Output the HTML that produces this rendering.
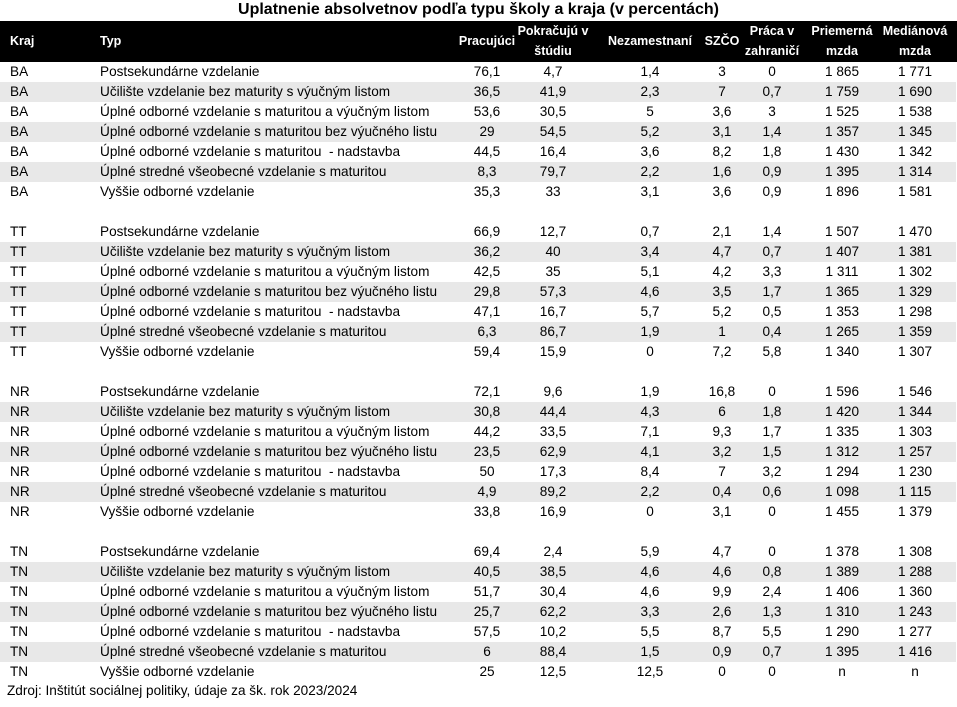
<!DOCTYPE html>
<html><head><meta charset="utf-8"><style>
body{margin:0;width:957px;height:707px;background:#fff;position:relative;overflow:hidden;font-family:"Liberation Sans",sans-serif;color:#000}
.title{position:absolute;top:0;left:0;width:957px;text-align:center;font-weight:bold;font-size:16px;line-height:19px}
.hd{position:absolute;top:21px;left:0;width:957px;height:41px;background:#000;color:#fff;font-weight:bold;font-size:12.5px}
.hd span{position:absolute;line-height:20px;white-space:nowrap}
.r{position:absolute;left:0;width:956px;height:20px;font-size:13.6px;line-height:20px}
.g{background:#e8e8e8}
.r span{position:absolute;top:0;white-space:nowrap}
.k{left:10px}.t{left:100px}
.c{width:100px;text-align:center}
.c1{left:437px}.c2{left:503px}.c3{left:600px}.c4{left:672px}.c5{left:722px}.c6{left:792px}.c7{left:865px}
.hd .c{width:100px;text-align:center}
.src{position:absolute;left:7px;top:681px;font-size:13.6px;line-height:20px}
</style></head><body>
<div class="title">Uplatnenie absolvetnov podľa typu školy a kraja (v percentách)</div>
<div class="hd">
<span style="left:10px;top:10px">Kraj</span>
<span style="left:100px;top:10px">Typ</span>
<span class="c c1" style="top:10px">Pracujúci</span>
<span class="c c2" style="top:0">Pokračujú v</span><span class="c c2" style="top:20px">štúdiu</span>
<span class="c c3" style="top:10px">Nezamestnaní</span>
<span class="c c4" style="top:10px">SZČO</span>
<span class="c c5" style="top:0">Práca v</span><span class="c c5" style="top:20px">zahraničí</span>
<span class="c c6" style="top:0">Priemerná</span><span class="c c6" style="top:20px">mzda</span>
<span class="c c7" style="top:0">Mediánová</span><span class="c c7" style="top:20px">mzda</span>
</div>

<div class="r" style="top:62px"><span class="k">BA</span><span class="t">Postsekundárne vzdelanie</span><span class="c c1">76,1</span><span class="c c2">4,7</span><span class="c c3">1,4</span><span class="c c4">3</span><span class="c c5">0</span><span class="c c6">1 865</span><span class="c c7">1 771</span></div>
<div class="r g" style="top:82px"><span class="k">BA</span><span class="t">Učilište vzdelanie bez maturity s výučným listom</span><span class="c c1">36,5</span><span class="c c2">41,9</span><span class="c c3">2,3</span><span class="c c4">7</span><span class="c c5">0,7</span><span class="c c6">1 759</span><span class="c c7">1 690</span></div>
<div class="r" style="top:102px"><span class="k">BA</span><span class="t">Úplné odborné vzdelanie s maturitou a výučným listom</span><span class="c c1">53,6</span><span class="c c2">30,5</span><span class="c c3">5</span><span class="c c4">3,6</span><span class="c c5">3</span><span class="c c6">1 525</span><span class="c c7">1 538</span></div>
<div class="r g" style="top:122px"><span class="k">BA</span><span class="t">Úplné odborné vzdelanie s maturitou bez výučného listu</span><span class="c c1">29</span><span class="c c2">54,5</span><span class="c c3">5,2</span><span class="c c4">3,1</span><span class="c c5">1,4</span><span class="c c6">1 357</span><span class="c c7">1 345</span></div>
<div class="r" style="top:142px"><span class="k">BA</span><span class="t">Úplné odborné vzdelanie s maturitou&nbsp; - nadstavba</span><span class="c c1">44,5</span><span class="c c2">16,4</span><span class="c c3">3,6</span><span class="c c4">8,2</span><span class="c c5">1,8</span><span class="c c6">1 430</span><span class="c c7">1 342</span></div>
<div class="r g" style="top:162px"><span class="k">BA</span><span class="t">Úplné stredné všeobecné vzdelanie s maturitou</span><span class="c c1">8,3</span><span class="c c2">79,7</span><span class="c c3">2,2</span><span class="c c4">1,6</span><span class="c c5">0,9</span><span class="c c6">1 395</span><span class="c c7">1 314</span></div>
<div class="r" style="top:182px"><span class="k">BA</span><span class="t">Vyššie odborné vzdelanie</span><span class="c c1">35,3</span><span class="c c2">33</span><span class="c c3">3,1</span><span class="c c4">3,6</span><span class="c c5">0,9</span><span class="c c6">1 896</span><span class="c c7">1 581</span></div>

<div class="r" style="top:222px"><span class="k">TT</span><span class="t">Postsekundárne vzdelanie</span><span class="c c1">66,9</span><span class="c c2">12,7</span><span class="c c3">0,7</span><span class="c c4">2,1</span><span class="c c5">1,4</span><span class="c c6">1 507</span><span class="c c7">1 470</span></div>
<div class="r g" style="top:242px"><span class="k">TT</span><span class="t">Učilište vzdelanie bez maturity s výučným listom</span><span class="c c1">36,2</span><span class="c c2">40</span><span class="c c3">3,4</span><span class="c c4">4,7</span><span class="c c5">0,7</span><span class="c c6">1 407</span><span class="c c7">1 381</span></div>
<div class="r" style="top:262px"><span class="k">TT</span><span class="t">Úplné odborné vzdelanie s maturitou a výučným listom</span><span class="c c1">42,5</span><span class="c c2">35</span><span class="c c3">5,1</span><span class="c c4">4,2</span><span class="c c5">3,3</span><span class="c c6">1 311</span><span class="c c7">1 302</span></div>
<div class="r g" style="top:282px"><span class="k">TT</span><span class="t">Úplné odborné vzdelanie s maturitou bez výučného listu</span><span class="c c1">29,8</span><span class="c c2">57,3</span><span class="c c3">4,6</span><span class="c c4">3,5</span><span class="c c5">1,7</span><span class="c c6">1 365</span><span class="c c7">1 329</span></div>
<div class="r" style="top:302px"><span class="k">TT</span><span class="t">Úplné odborné vzdelanie s maturitou&nbsp; - nadstavba</span><span class="c c1">47,1</span><span class="c c2">16,7</span><span class="c c3">5,7</span><span class="c c4">5,2</span><span class="c c5">0,5</span><span class="c c6">1 353</span><span class="c c7">1 298</span></div>
<div class="r g" style="top:322px"><span class="k">TT</span><span class="t">Úplné stredné všeobecné vzdelanie s maturitou</span><span class="c c1">6,3</span><span class="c c2">86,7</span><span class="c c3">1,9</span><span class="c c4">1</span><span class="c c5">0,4</span><span class="c c6">1 265</span><span class="c c7">1 359</span></div>
<div class="r" style="top:342px"><span class="k">TT</span><span class="t">Vyššie odborné vzdelanie</span><span class="c c1">59,4</span><span class="c c2">15,9</span><span class="c c3">0</span><span class="c c4">7,2</span><span class="c c5">5,8</span><span class="c c6">1 340</span><span class="c c7">1 307</span></div>

<div class="r" style="top:382px"><span class="k">NR</span><span class="t">Postsekundárne vzdelanie</span><span class="c c1">72,1</span><span class="c c2">9,6</span><span class="c c3">1,9</span><span class="c c4">16,8</span><span class="c c5">0</span><span class="c c6">1 596</span><span class="c c7">1 546</span></div>
<div class="r g" style="top:402px"><span class="k">NR</span><span class="t">Učilište vzdelanie bez maturity s výučným listom</span><span class="c c1">30,8</span><span class="c c2">44,4</span><span class="c c3">4,3</span><span class="c c4">6</span><span class="c c5">1,8</span><span class="c c6">1 420</span><span class="c c7">1 344</span></div>
<div class="r" style="top:422px"><span class="k">NR</span><span class="t">Úplné odborné vzdelanie s maturitou a výučným listom</span><span class="c c1">44,2</span><span class="c c2">33,5</span><span class="c c3">7,1</span><span class="c c4">9,3</span><span class="c c5">1,7</span><span class="c c6">1 335</span><span class="c c7">1 303</span></div>
<div class="r g" style="top:442px"><span class="k">NR</span><span class="t">Úplné odborné vzdelanie s maturitou bez výučného listu</span><span class="c c1">23,5</span><span class="c c2">62,9</span><span class="c c3">4,1</span><span class="c c4">3,2</span><span class="c c5">1,5</span><span class="c c6">1 312</span><span class="c c7">1 257</span></div>
<div class="r" style="top:462px"><span class="k">NR</span><span class="t">Úplné odborné vzdelanie s maturitou&nbsp; - nadstavba</span><span class="c c1">50</span><span class="c c2">17,3</span><span class="c c3">8,4</span><span class="c c4">7</span><span class="c c5">3,2</span><span class="c c6">1 294</span><span class="c c7">1 230</span></div>
<div class="r g" style="top:482px"><span class="k">NR</span><span class="t">Úplné stredné všeobecné vzdelanie s maturitou</span><span class="c c1">4,9</span><span class="c c2">89,2</span><span class="c c3">2,2</span><span class="c c4">0,4</span><span class="c c5">0,6</span><span class="c c6">1 098</span><span class="c c7">1 115</span></div>
<div class="r" style="top:502px"><span class="k">NR</span><span class="t">Vyššie odborné vzdelanie</span><span class="c c1">33,8</span><span class="c c2">16,9</span><span class="c c3">0</span><span class="c c4">3,1</span><span class="c c5">0</span><span class="c c6">1 455</span><span class="c c7">1 379</span></div>

<div class="r" style="top:542px"><span class="k">TN</span><span class="t">Postsekundárne vzdelanie</span><span class="c c1">69,4</span><span class="c c2">2,4</span><span class="c c3">5,9</span><span class="c c4">4,7</span><span class="c c5">0</span><span class="c c6">1 378</span><span class="c c7">1 308</span></div>
<div class="r g" style="top:562px"><span class="k">TN</span><span class="t">Učilište vzdelanie bez maturity s výučným listom</span><span class="c c1">40,5</span><span class="c c2">38,5</span><span class="c c3">4,6</span><span class="c c4">4,6</span><span class="c c5">0,8</span><span class="c c6">1 389</span><span class="c c7">1 288</span></div>
<div class="r" style="top:582px"><span class="k">TN</span><span class="t">Úplné odborné vzdelanie s maturitou a výučným listom</span><span class="c c1">51,7</span><span class="c c2">30,4</span><span class="c c3">4,6</span><span class="c c4">9,9</span><span class="c c5">2,4</span><span class="c c6">1 406</span><span class="c c7">1 360</span></div>
<div class="r g" style="top:602px"><span class="k">TN</span><span class="t">Úplné odborné vzdelanie s maturitou bez výučného listu</span><span class="c c1">25,7</span><span class="c c2">62,2</span><span class="c c3">3,3</span><span class="c c4">2,6</span><span class="c c5">1,3</span><span class="c c6">1 310</span><span class="c c7">1 243</span></div>
<div class="r" style="top:622px"><span class="k">TN</span><span class="t">Úplné odborné vzdelanie s maturitou&nbsp; - nadstavba</span><span class="c c1">57,5</span><span class="c c2">10,2</span><span class="c c3">5,5</span><span class="c c4">8,7</span><span class="c c5">5,5</span><span class="c c6">1 290</span><span class="c c7">1 277</span></div>
<div class="r g" style="top:642px"><span class="k">TN</span><span class="t">Úplné stredné všeobecné vzdelanie s maturitou</span><span class="c c1">6</span><span class="c c2">88,4</span><span class="c c3">1,5</span><span class="c c4">0,9</span><span class="c c5">0,7</span><span class="c c6">1 395</span><span class="c c7">1 416</span></div>
<div class="r" style="top:662px"><span class="k">TN</span><span class="t">Vyššie odborné vzdelanie</span><span class="c c1">25</span><span class="c c2">12,5</span><span class="c c3">12,5</span><span class="c c4">0</span><span class="c c5">0</span><span class="c c6">n</span><span class="c c7">n</span></div>

<div class="src">Zdroj: Inštitút sociálnej politiky, údaje za šk. rok 2023/2024</div>
</body></html>
